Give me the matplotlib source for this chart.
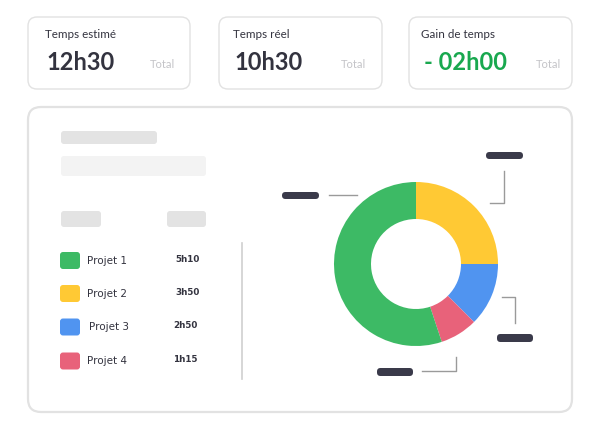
import matplotlib
matplotlib.use("Agg")
import matplotlib.pyplot as plt
from matplotlib.patches import FancyBboxPatch

# ---- data ----
card_titles = ["Temps estimé", "Temps réel", "Gain de temps"]
card_values = ["12h30", "10h30", "- 02h00"]
card_unit = "Total"
projects = ["Projet 1", "Projet 2", "Projet 3", "Projet 4"]
durations = ["5h10", "3h50", "2h50", "1h15"]
colors = ["#3dba65", "#ffc934", "#5094f0", "#e8627a"]
# share of the ring (degrees) for Projet 1..4
ring_share = [198.3, 90.0, 45.0, 26.7]
# drawing order of the ring, clockwise from 12 o'clock
ring_order = [1, 2, 3, 0]

DARK = "#33333f"
BORDER = "#e2e2e2"

fig = plt.figure(figsize=(6, 4.3), dpi=100)
ax = fig.add_axes([0, 0, 1, 1])


def rbox(x0, y0, x1, y1, r, fc, ec="none", lw=0):
    p = FancyBboxPatch((x0, y0), x1 - x0, y1 - y0,
                       boxstyle=f"round,pad=0,rounding_size={r}",
                       fc=fc, ec=ec, lw=lw, zorder=1)
    ax.add_patch(p)


# ---- cards ----
cards_x = [(28, 190), (219, 382), (409, 572)]
label_x = [45, 233, 421]
value_x = [46, 234, 424]
total_x = [175, 366, 561]
value_colors = [DARK, DARK, "#19a84f"]
for i in range(3):
    x0, x1 = cards_x[i]
    rbox(x0, 17, x1, 89, 9, "white", BORDER, 1.0)
    ax.text(label_x[i], 35, card_titles[i], fontsize=8.4, color=DARK,
            family="Lato", va="center", ha="left")
    ax.text(value_x[i], 62, card_values[i], fontsize=17, color=value_colors[i],
            family="Lato", fontweight="bold", va="center", ha="left")
    ax.text(total_x[i], 65, card_unit, fontsize=8, color="#c4c4c8",
            family="Lato", va="center", ha="right")

# ---- main panel ----
rbox(28, 107, 572, 412, 13, "white", BORDER, 1.6)

# placeholders
rbox(61, 131, 157, 144, 3, "#e3e3e3")
rbox(61, 156, 206, 176, 3, "#f3f3f3")
rbox(61, 211, 101, 227, 3, "#e3e3e3")
rbox(167, 211, 206, 227, 3, "#e3e3e3")

# legend
leg_y = [260.5, 293.5, 327, 361]
name_x = [87, 87, 89, 87]
dur_x = [175, 175, 173, 173]
for i, p in enumerate(projects):
    rbox(60, leg_y[i] - 8.5, 80, leg_y[i] + 8.5, 3, colors[i])
    ax.text(name_x[i], leg_y[i] + 0.5, p, fontsize=7.5, color=DARK,
            family="DejaVu Sans", va="center", ha="left")
    ax.text(dur_x[i], leg_y[i] - 1, durations[i], fontsize=6.3, color=DARK,
            family="DejaVu Sans", fontweight="bold", va="center", ha="left")

ax.plot([242, 242], [243, 379], color="#cfcfcf", lw=1.2, zorder=2)

# ---- donut ----
vals = [ring_share[k] for k in ring_order]
cols = [colors[k] for k in ring_order]
ax.pie(vals, colors=cols, center=(416, 264), radius=82, startangle=-90,
       counterclock=True, wedgeprops=dict(width=37, edgecolor="none"))

# label placeholders and leader lines
LINE = "#9a9a9a"
rbox(486, 152, 523, 159, 3.5, "#3a3a4a")
ax.plot([504, 504, 490], [171, 203, 203], color=LINE, lw=1)
rbox(282, 192, 319, 199, 3.5, "#3a3a4a")
ax.plot([329, 357], [195, 195], color=LINE, lw=1)
rbox(497, 334, 533, 342, 3.5, "#3a3a4a")
ax.plot([502, 515, 515], [297, 297, 323], color=LINE, lw=1)
rbox(377, 368, 413, 376, 3.5, "#3a3a4a")
ax.plot([422, 456, 456], [371, 371, 357], color=LINE, lw=1)

ax.set_xlim(0, 600)
ax.set_ylim(430, 0)
ax.set_aspect("equal")
ax.axis("off")

fig.savefig("out.png", dpi=100, facecolor="white")
